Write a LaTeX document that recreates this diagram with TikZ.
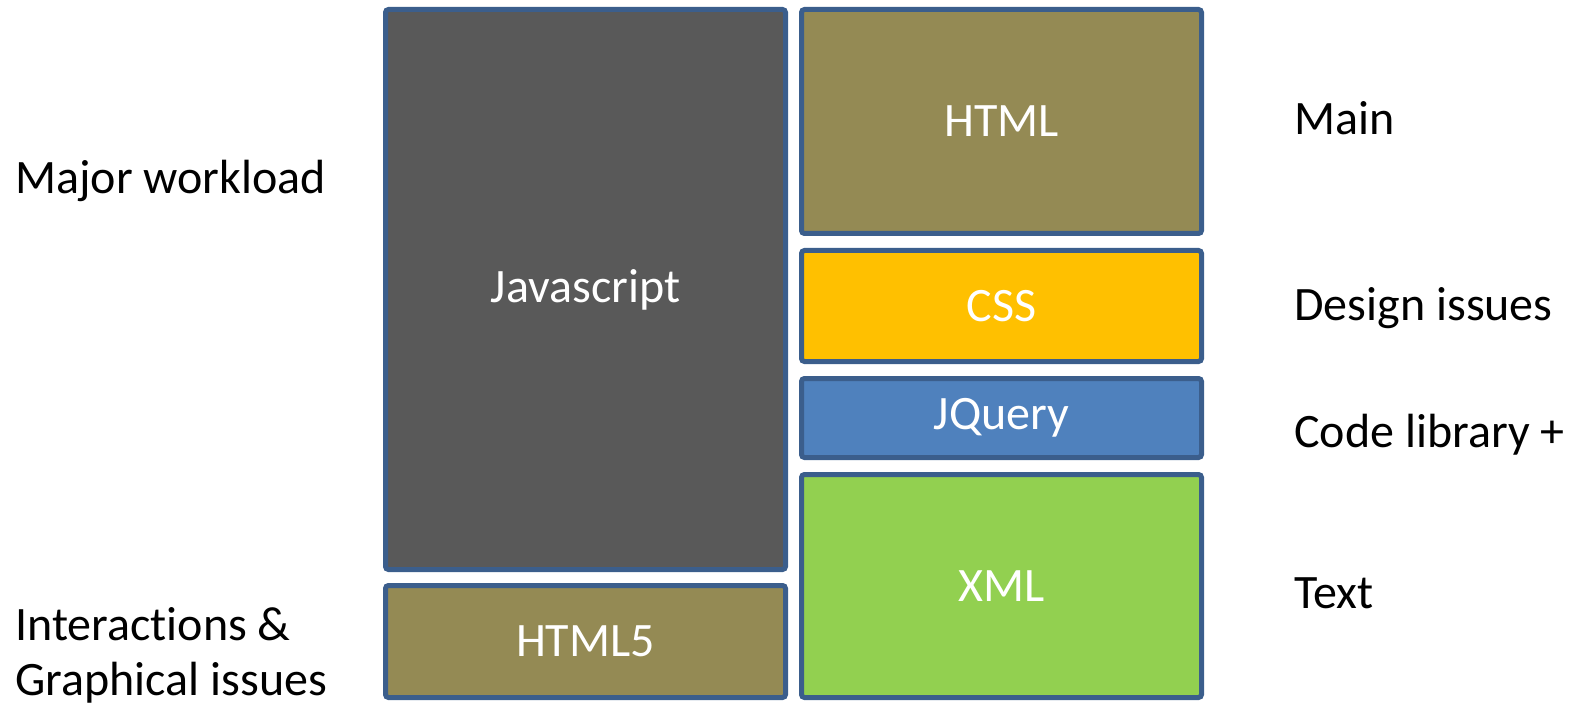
\documentclass[tikz,border=0pt]{standalone}
\usepackage{fontspec}
\setmainfont[Ligatures=NoCommon]{Carlito}
\usepackage{tikz}
\usetikzlibrary{positioning}
\definecolor{edgeblue} {RGB}{ 59, 94,140}
\definecolor{jsgray}   {RGB}{ 89, 89, 89}
\definecolor{olive}    {RGB}{148,138, 84}
\definecolor{cssamber} {RGB}{255,192,  0}
\definecolor{jqblue}   {RGB}{ 79,129,189}
\definecolor{xmlgreen} {RGB}{146,208, 80}
\tikzset{
  tile/.style={draw=edgeblue,line width=2.5pt,rounded corners=1.5pt,
               minimum width=200pt,inner sep=0pt,
               font=\fontsize{24}{27.5}\selectfont,text=white},
  tilegray/.style={tile,fill=jsgray},
  tileolive/.style={tile,fill=olive},
  tileamber/.style={tile,fill=cssamber},
  tileblue/.style={tile,fill=jqblue},
  tilegreen/.style={tile,fill=xmlgreen},
  note/.style={anchor=west,inner sep=0pt,align=left,
               font=\fontsize{24}{27.5}\selectfont},
}
\begin{document}
\begin{tikzpicture}[x=0.5pt,y=-0.5pt]
  \useasboundingbox (0,0) rectangle (1576,706);
  % left column
  \node[tilegray,minimum height=280pt] (JS) at (585.5,289.5) {Javascript};
  \node[tileolive,minimum height=56pt] (H5) at (585.5,641.5) {HTML5};
  % right column
  \node[tileolive,minimum height=112pt]  (HT) at (1001.5,121.5) {HTML};
  \node[tileamber,minimum height=55.5pt] (CS) at (1001.5,306) {CSS};
  \node[tileblue,minimum height=39.5pt]  (JQ) at (1001.5,418) {JQuery};
  \node[tilegreen,minimum height=111.5pt](XM) at (1001.5,586) {XML};

  % side notes
  \node[note] (work) at (15,181) {Major workload};
  \node[note] (grph) at (15,655) {Interactions \&\\Graphical issues};
  \node[note] (main) at (1294,118) {Main};
  \node[note] (dsgn) at (1294,308) {Design issues};
  \node[note] (clib) at (1294,435) {Code library +};
  \node[note] (text) at (1294,593) {Text};
\end{tikzpicture}
\end{document}
